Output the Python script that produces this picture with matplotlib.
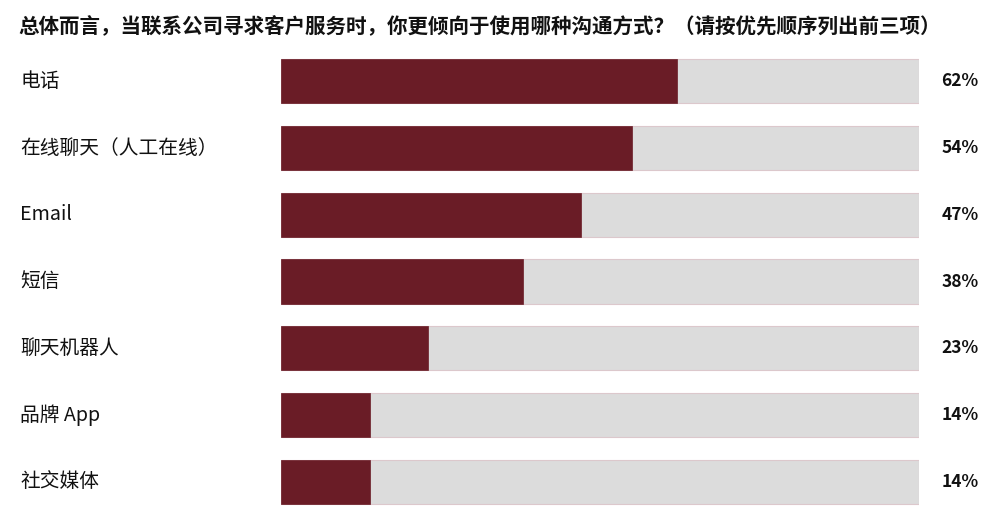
import numpy as np
import matplotlib.pyplot as plt

plt.rcParams['font.family'] = ['Noto Sans CJK SC', 'DejaVu Sans']

title = '总体而言，当联系公司寻求客户服务时，你更倾向于使用哪种沟通方式？（请按优先顺序列出前三项）'
categories = ['电话', '在线聊天（人工在线）', 'Email', '短信', '聊天机器人', '品牌 App', '社交媒体']
values = [62, 55, 47, 38, 23, 14, 14]
value_labels = ['62%', '54%', '47%', '38%', '23%', '14%', '14%']

dark_red = '#6a1c26'
light_gray = '#dcdcdc'

fig = plt.figure(figsize=(10, 5.3), dpi=100)
ax = fig.add_axes([0.281, 0.0283, 0.638, 0.8811])

y = np.arange(len(categories))
ax.barh(y, [100] * len(categories), height=0.66, color=light_gray,
        edgecolor='#dcc8cc', linewidth=0.8)
ax.barh(y, values, height=0.66, color=dark_red, edgecolor=dark_red, linewidth=0.5)

ax.set_xlim(0, 100)
ax.set_ylim(len(categories) - 0.5, -0.5)
ax.axis('off')

for i, (cat, lab) in enumerate(zip(categories, value_labels)):
    ax.text(-0.409, i, cat, transform=ax.get_yaxis_transform(),
            ha='left', va='center', fontsize=14.2, color='#111111')
    ax.text(1.064, i, lab, transform=ax.get_yaxis_transform(),
            ha='center', va='center', fontsize=12.5, fontweight='bold', color='#111111')

fig.text(0.018, 0.949, title, ha='left', va='center', fontsize=14.8,
         fontweight='bold', color='#111111')

fig.savefig('out.png', dpi=100)
